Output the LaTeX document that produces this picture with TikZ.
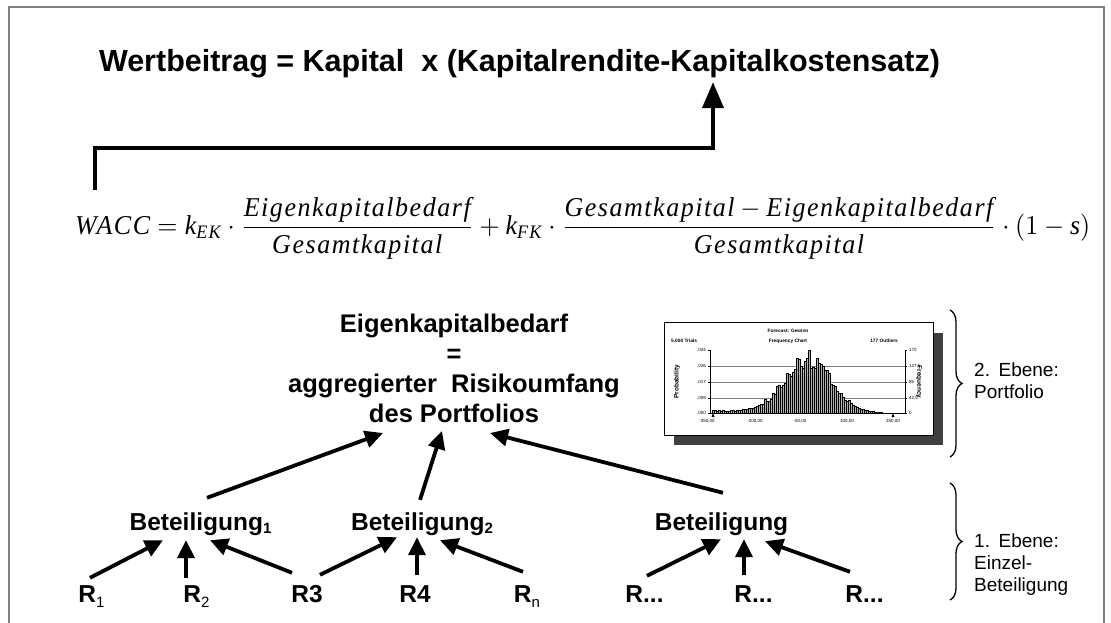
\documentclass[tikz,border=0pt]{standalone}
\usepackage{fontspec}
\usepackage{amsmath}
\setmainfont{Liberation Sans}
\newfontfamily\tms[LetterSpace=6]{Liberation Serif}
\usetikzlibrary{arrows.meta,decorations.pathreplacing,calc}
\definecolor{framegray}{HTML}{808080}
\definecolor{shadowgray}{HTML}{404040}
\newcommand\bsub[1]{\raisebox{-3pt}{\fontsize{15}{15}\selectfont #1}}
\newcommand\rsub[1]{\raisebox{-5pt}{\mdseries\fontsize{15}{15}\selectfont #1}}
\tikzset{
  arr/.style={line width=3.8pt, -{Triangle[length=18pt,width=17pt]}},
  bigarr/.style={line width=4pt, -{Triangle[length=26pt,width=21pt]}},
  boldtxt/.style={font=\bfseries\fontsize{25.5}{30}\selectfont, inner sep=0pt},
  lowtxt/.style={font=\bfseries\fontsize{24.5}{28}\selectfont, inner sep=0pt, anchor=base, text height=17pt, text depth=0pt},
  leveltxt/.style={font=\fontsize{19}{22}\selectfont, align=left, inner sep=0pt, anchor=north west},
  bracedeco/.style={decorate, decoration={brace, amplitude=12pt}, line width=1.3pt},
  tinytxt/.style={font=\fontsize{4.5}{5}\selectfont, inner sep=0pt},
  tinyb/.style={font=\bfseries\fontsize{4.8}{5}\selectfont, inner sep=0pt},
}
\begin{document}
\begin{tikzpicture}[x=1pt,y=-1pt]
\useasboundingbox (0,0) rectangle (1111,623);
\fill[white] (0,0) rectangle (1111,623);
\draw[framegray, line width=1.5pt] (9,623) -- (9,7) -- (1104,7) -- (1104,623);

% title
\node[font=\bfseries\fontsize{30.5}{36}\selectfont, inner sep=0pt, anchor=base, text depth=0pt] (title) at (519.5,72)
  {Wertbeitrag = Kapital \ x (Kapitalrendite-Kapitalkostensatz)};

% WACC formula
\node[anchor=north west, inner sep=0pt] (wacc) at (75,197) {\tms\resizebox*{1015pt}{62pt}{$\displaystyle
  \textit{WACC}=\textit{k}_{\textit{EK}}\cdot\frac{\textit{Eigenkapitalbedarf}}{\textit{Gesamtkapital}}
  +\textit{k}_{\textit{FK}}\cdot\frac{\textit{Gesamtkapital}-\textit{Eigenkapitalbedarf}}{\textit{Gesamtkapital}}\cdot(1-\textit{s})$}};

\draw[bigarr] ([shift={(20,-7)}]wacc.north west) -- ++(0,-42) -| ([shift={(193.5,10)}]title.south);

% portfolio node
\node[boldtxt, align=center, anchor=south] (ek) at (454,423)
  {Eigenkapitalbedarf\\=\\aggregierter \ Risikoumfang\\des Portfolios};

% Beteiligungen
\node[lowtxt] (b1) at (200.5,530) {Beteiligung\bsub{1}};
\node[lowtxt] (b2) at (422,530) {Beteiligung\bsub{2}};
\node[lowtxt] (b3) at (721.5,530) {Beteiligung};

% risks
\node[lowtxt] (r1) at (91.5,602) {R\rsub{1}};
\node[lowtxt] (r2) at (196.5,602) {R\rsub{2}};
\node[lowtxt] (r3) at (307,602) {R3};
\node[lowtxt] (r4) at (415,602) {R4};
\node[lowtxt] (rn) at (527,602) {R\rsub{n}};
\node[lowtxt] (ra) at (644.5,602) {R...};
\node[lowtxt] (rb) at (753.5,602) {R...};
\node[lowtxt] (rc) at (864.5,602) {R...};

% arrows to portfolio
\draw[arr] ([shift={(6.5,-15)}]b1.north) -- ([shift={(-71,10)}]ek.south);
\draw[arr] ([shift={(-2,-13)}]b2.north) -- ([shift={(-12,8)}]ek.south);
\draw[arr] ([shift={(1.5,-20)}]b3.north) -- ([shift={(36,10)}]ek.south);

% arrows risks -> Beteiligungen
\draw[arr] ([shift={(-1.5,-7)}]r1.north) -- ([shift={(-37.5,10)}]b1.south);
\draw[arr] ([shift={(-10.5,-7)}]r2.north) -- ([shift={(-14.5,10)}]b1.south);
\draw[arr] ([shift={(-15,-12)}]r3.north) -- ([shift={(9.5,10)}]b1.south);
\draw[arr] ([shift={(13,-10)}]r3.north) -- ([shift={(-25,7)}]b2.south);
\draw[arr] ([shift={(2,-10)}]r4.north) -- ([shift={(-5,7)}]b2.south);
\draw[arr] ([shift={(-4,-13)}]rn.north) -- ([shift={(18,10)}]b2.south);
\draw[arr] ([shift={(2.5,-9)}]ra.north) -- ([shift={(-0.5,9)}]b3.south);
\draw[arr] ([shift={(-9.5,-10)}]rb.north) -- ([shift={(22.5,9)}]b3.south);
\draw[arr] ([shift={(-14.5,-13)}]rc.north) -- ([shift={(43.5,11)}]b3.south);

% chart
\fill[shadowgray] (674,333) rectangle (943,445);
\draw[black, line width=0.8pt, fill=white] (664,322) rectangle (933,435);
\foreach \yy in {366,382,398} \draw[gray, line width=0.4pt] (710,\yy) -- (905,\yy);
\draw[line width=0.4pt] (710,350) -- (710,413) -- (905,413) -- (905,350);
\foreach \yy in {350,366,382,398,413} {\draw[line width=0.3pt] (708,\yy) -- (710,\yy); \draw[line width=0.3pt] (905,\yy) -- (907,\yy);}
\pgfmathsetseed{11}
\foreach \i in {0,...,84} {
  \pgfmathsetmacro\xx{713+2*\i}
  \pgfmathsetmacro\sig{\xx<807 ? 22 : 23}
  \pgfmathsetmacro\dd{(\xx-807)/\sig}
  \pgfmathsetmacro\base{\xx<800 ? 2.5 : 0.8}
  \pgfmathsetmacro\hh{min(63,(58*exp(-\dd*\dd/2)+\base)*(0.75+0.4*rnd))}
  \draw[line width=0.3pt, fill=gray!60] (\xx-0.8,413) rectangle (\xx+0.8,413-\hh);
}
\node[tinyb] (fc) at (788,331) {Forecast: Gewinn};
\node[tinyb, anchor=west] (tr) at (671,341) {5.000 Trials};
\node[tinyb] (fq) at (788,341) {Frequency Chart};
\node[tinyb, anchor=east] (ou) at (898,341) {177 Outliers};
\foreach \yy/\t in {350/{,034},366/{,026},382/{,017},398/{,009},413/{,000}}
  \node[tinytxt, anchor=east] at (706,\yy) {\t};
\foreach \yy/\t in {350/170,366/{127,5},382/85,398/{42,5},413/0}
  \node[tinytxt, anchor=west] at (909,\yy) {\t};
\foreach \xx/\t in {707/{-350,00},755/{-200,00},800/{-50,00},847/{100,00},893/{250,00}}
  \node[tinytxt] at (\xx,421) {\t};
\node[font=\bfseries\fontsize{6.5}{7}\selectfont, inner sep=0pt, rotate=90] (prob) at (677,382) {Probability};
\node[font=\bfseries\fontsize{6.5}{7}\selectfont, inner sep=0pt, rotate=-90] (freq) at (919,382) {Frequency};
\fill (713,413) -- (711.5,417) -- (714.5,417) -- cycle;
\fill (893,413) -- (891.5,417) -- (894.5,417) -- cycle;

% braces and level labels
\draw[bracedeco] (950,310) -- (950,457);
\draw[bracedeco] (950,483) -- (950,600);
\node[leveltxt] (lv2) at (974,363) {2.\hspace{0.45em}Ebene:\\Portfolio};
\node[leveltxt] (lv1) at (974,534) {1.\hspace{0.45em}Ebene:\\Einzel-\\Beteiligung};
\end{tikzpicture}
\end{document}
